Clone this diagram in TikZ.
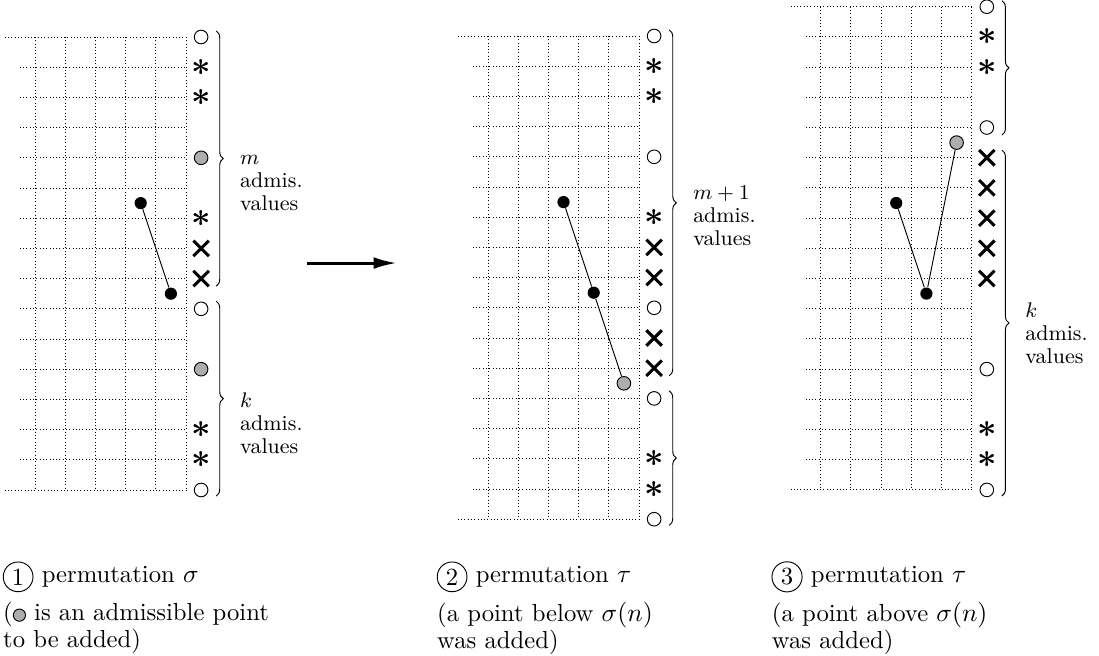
\documentclass[tikz,border=0pt]{standalone}
\usepackage{amsmath,amssymb}
\usepackage{tikz}
\usetikzlibrary{positioning,arrows.meta,shapes.misc,decorations.pathreplacing}
\usepackage{xcolor}
\definecolor{admis}{gray}{0.68}

\tikzset{
  grid line/.style={densely dotted, line width=0.4pt},
  blackpt/.style={circle, fill=black, inner sep=0pt, minimum size=5.2pt},
  openpt/.style={circle, draw, fill=white, inner sep=0pt, minimum size=5.8pt, line width=0.4pt},
  greypt/.style={openpt, fill=admis},
  crosspt/.style={cross out, draw, line width=1.3pt, inner sep=0pt, minimum size=5.3pt},
  astpt/.style={inner sep=0pt, font=\Large},
  valbrace/.style={decorate, decoration={brace, amplitude=3pt}, line width=0.4pt},
  vallabel/.style={anchor=west, align=left, font=\fontsize{9.1}{9.8}\selectfont, inner sep=0pt},
  numcirc/.style={circle, draw, inner sep=1.4pt, line width=0.4pt, font=\fontsize{10.5}{12}\selectfont},
  permtext/.style={font=\fontsize{10.5}{12}\selectfont},
  caption/.style={align=left, inner sep=0pt, font=\fontsize{10.5}{11.6}\selectfont},
}
\newcommand{\admisdot}{\tikz[baseline=-0.5ex]\draw[fill=admis, line width=0.4pt] (0,0) circle (2.6pt);}
\newcommand{\starmark}{$\boldsymbol{\ast}$}

\begin{document}
\begin{tikzpicture}[x=0.4518cm, y=0.4518cm]
      \useasboundingbox (0,0) rectangle (36.39,-21.69);

      % permutation sigma
      \begin{scope}[shift={(1.159,-1.225)}]
        \foreach \i in {0,...,5} \draw[grid line] (\i,0) -- (\i,-15);
        \draw[grid line] (-1,0) -- (5,0);
        \foreach \j in {1,...,14} \draw[grid line] (-0.5,-\j) -- (5,-\j);
        \draw[grid line] (-1,-15) -- (5,-15);
        \foreach \j in {0,9,15} \node[openpt] (A-o\j) at (5.5,-\j) {};
        \foreach \j in {4,11} \node[greypt] (A-g\j) at (5.5,-\j) {};
        \foreach \j in {1,2,6,13,14} \node[astpt] (A-a\j) at (5.5,-\j) {\starmark};
        \foreach \j in {7,8} \node[crosspt] (A-x\j) at (5.5,-\j) {};
        \node[blackpt] (A-p1) at (3.5,-5.5) {};
        \node[blackpt] (A-p2) at (4.5,-8.5) {};
        \draw (A-p1) -- (A-p2);
        \draw[valbrace] (6,0.2) -- (6,-8.25);
        \draw[valbrace] (6,-8.75) -- (6,-15.2);
        \node[vallabel] (A-m) at (6.78,-4.83) {$m$\\admis.\\values};
        \node[vallabel] (A-k) at (6.78,-12.8) {$k$\\admis.\\values};
      \end{scope}

      % step arrow
      \coordinate (step-from) at (10.17,-8.71);
      \coordinate (step-to) at (13.15,-8.71);
      \draw[line width=1.3pt, -{Latex[length=10pt,width=5pt]}] (step-from) -- (step-to);

      % tau, point below
      \begin{scope}[shift={(16.159,-1.192)}]
        \foreach \i in {0,...,5} \draw[grid line] (\i,0) -- (\i,-16);
        \draw[grid line] (-1,0) -- (5,0);
        \foreach \j in {1,...,15} \draw[grid line] (-0.5,-\j) -- (5,-\j);
        \draw[grid line] (-1,-16) -- (5,-16);
        \foreach \j in {0,4,9,12,16} \node[openpt] (B-o\j) at (5.5,-\j) {};
        \foreach \j in {1,2,6,14,15} \node[astpt] (B-a\j) at (5.5,-\j) {\starmark};
        \foreach \j in {7,8,10,11} \node[crosspt] (B-x\j) at (5.5,-\j) {};
        \node[blackpt] (B-p1) at (2.5,-5.5) {};
        \node[blackpt] (B-p2) at (3.5,-8.5) {};
        \node[greypt] (B-new) at (4.5,-11.5) {};
        \draw (B-p1) -- (B-p2) -- (B-new);
        \draw[valbrace] (6,0.2) -- (6,-11.25);
        \draw[valbrace] (6,-11.75) -- (6,-16.2);
        \node[vallabel] (B-m) at (6.78,-5.95) {$m+1$\\admis.\\values};
      \end{scope}

      % tau, point above
      \begin{scope}[shift={(27.175,-0.222)}]
        \foreach \i in {0,...,5} \draw[grid line] (\i,0) -- (\i,-16);
        \draw[grid line] (-1,0) -- (5,0);
        \foreach \j in {1,...,15} \draw[grid line] (-0.5,-\j) -- (5,-\j);
        \draw[grid line] (-1,-16) -- (5,-16);
        \foreach \j in {0,4,12,16} \node[openpt] (C-o\j) at (5.5,-\j) {};
        \foreach \j in {1,2,14,15} \node[astpt] (C-a\j) at (5.5,-\j) {\starmark};
        \foreach \j in {5,...,9} \node[crosspt] (C-x\j) at (5.5,-\j) {};
        \node[blackpt] (C-p1) at (2.5,-6.5) {};
        \node[blackpt] (C-p2) at (3.5,-9.5) {};
        \node[greypt] (C-new) at (4.5,-4.5) {};
        \draw (C-p1) -- (C-p2) -- (C-new);
        \draw[valbrace] (6,0.2) -- (6,-4.25);
        \draw[valbrace] (6,-4.75) -- (6,-16.2);
        \node[vallabel] (C-k) at (6.76,-10.8) {$k$\\admis.\\values};
      \end{scope}

      % captions
      \node[numcirc] (num1) at (0.6,-19.1) {1};
      \node[permtext, right=0pt of num1] (perm1) {permutation $\sigma$};
      \node[caption, below right=10.5pt and 0pt of num1.west] (desc1) {(\admisdot{} is an admissible point\\to be added)};
      \node[numcirc] (num2) at (14.97,-19.1) {2};
      \node[permtext, right=0pt of num2] (perm2) {permutation $\tau$};
      \node[caption, below right=10.5pt and 0pt of num2.west] (desc2) {(a point below $\sigma(n)$\\was added)};
      \node[numcirc] (num3) at (26.06,-19.1) {3};
      \node[permtext, right=0pt of num3] (perm3) {permutation $\tau$};
      \node[caption, below right=10.5pt and 0pt of num3.west] (desc3) {(a point above $\sigma(n)$\\was added)};
    \end{tikzpicture}
\end{document}
